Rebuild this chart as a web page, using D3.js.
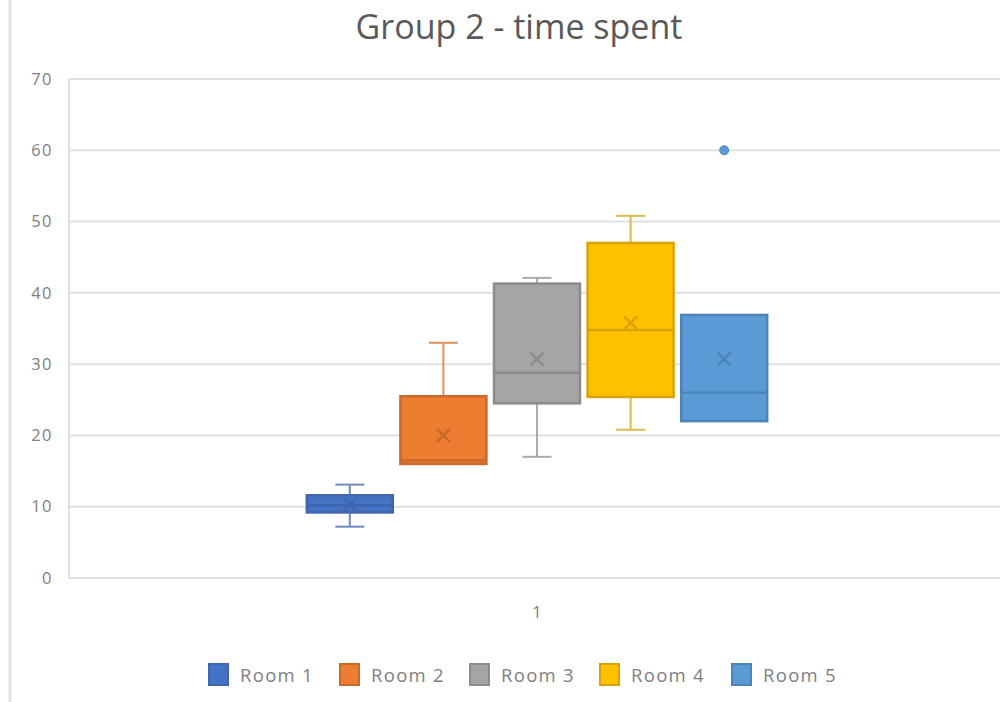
<!DOCTYPE html>
<html>
<head>
<meta charset="utf-8">
<script src="https://cdn.jsdelivr.net/npm/d3@7"></script>
<style>
  html, body { margin: 0; padding: 0; background: #ffffff; }
  svg { display: block; }
  text { font-family: "Open Sans", "DejaVu Sans", sans-serif; }
</style>
</head>
<body>
<svg id="chart" width="1000" height="702"></svg>
<script>
// Time spent per room (Group 2), five-number summaries plus mean and outliers
const categories = ["1"];
const rooms = ["Room 1", "Room 2", "Room 3", "Room 4", "Room 5"];
const minValues    = [7.2, 16.0, 17.0, 20.8, 22.0];
const q1Values     = [9.2, 16.0, 24.5, 25.4, 22.0];
const medianValues = [10.2, 16.5, 28.8, 34.8, 26.0];
const q3Values     = [11.6, 25.5, 41.3, 47.0, 36.9];
const maxValues    = [13.1, 33.0, 42.1, 50.8, 36.9];
const meanValues   = [10.3, 20.0, 30.7, 35.8, 30.7];
const outlierValues = [[], [], [], [], [60]];
const yTicks = [0, 10, 20, 30, 40, 50, 60, 70];

const fills   = ["#4472C4", "#ED7D31", "#A5A5A5", "#FFC000", "#5B9BD5"];
const borders = ["#3F65AD", "#C9692B", "#8C8C8C", "#D9A400", "#4D84B7"];
const whiskerColors = ["#6F8BC0", "#D9935F", "#AAAAAA", "#DDB94E", "#7DA6CF"];

const svg = d3.select("#chart");
const plot = { left: 69, right: 1005, top: 79, bottom: 578 };

// chart frame edge on the left
svg.append("line")
  .attr("x1", 10).attr("x2", 10).attr("y1", 0).attr("y2", 702)
  .attr("stroke", "#e3e3e3").attr("stroke-width", 3);

const y = d3.scaleLinear().domain([0, 70]).range([plot.bottom, plot.top]);
const x0 = d3.scaleBand().domain(categories).range([plot.left, plot.right])
  .paddingInner(0).paddingOuter(0.5);
const x1 = d3.scaleBand().domain(rooms).range([0, x0.bandwidth()])
  .paddingInner(0.06).paddingOuter(0.03);

// gridlines
svg.append("g").selectAll("line").data(yTicks).join("line")
  .attr("x1", plot.left).attr("x2", 1000)
  .attr("y1", d => y(d)).attr("y2", d => y(d))
  .attr("stroke", "#e0e0e0").attr("stroke-width", 2);

// vertical axis line
svg.append("line")
  .attr("x1", plot.left).attr("x2", plot.left)
  .attr("y1", y(70)).attr("y2", y(0))
  .attr("stroke", "#e0e0e0").attr("stroke-width", 2);

// y axis labels
const yAxis = d3.axisLeft(y).tickValues(yTicks).tickSize(0).tickPadding(16);
const yg = svg.append("g").attr("transform", `translate(${plot.left},0)`).call(yAxis);
yg.select(".domain").remove();
yg.selectAll("text")
  .attr("fill", "#808080").style("font-size", "16.5px").style("letter-spacing", "1.5px")
  .style("font-family", "'Open Sans', sans-serif");

// x axis label
const xAxis = d3.axisBottom(x0).tickSize(0).tickPadding(28);
const xg = svg.append("g").attr("transform", `translate(0,${plot.bottom})`).call(xAxis);
xg.select(".domain").remove();
xg.selectAll("text")
  .attr("fill", "#808080").style("font-size", "16.5px")
  .style("font-family", "'Open Sans', sans-serif");

// boxes
const groups = svg.append("g")
  .attr("transform", `translate(${x0("1")},0)`)
  .selectAll("g").data(rooms).join("g");

const bw = x1.bandwidth();
const capW = bw * 0.33;

groups.each(function (room, i) {
  const g = d3.select(this);
  const left = x1(room);
  const cx = left + bw / 2;

  // whiskers
  g.append("line").attr("x1", cx).attr("x2", cx)
    .attr("y1", y(q3Values[i])).attr("y2", y(maxValues[i]))
    .attr("stroke", whiskerColors[i]).attr("stroke-width", 2);
  g.append("line").attr("x1", cx).attr("x2", cx)
    .attr("y1", y(q1Values[i])).attr("y2", y(minValues[i]))
    .attr("stroke", whiskerColors[i]).attr("stroke-width", 2);
  if (maxValues[i] > q3Values[i]) {
    g.append("line").attr("x1", cx - capW / 2).attr("x2", cx + capW / 2)
      .attr("y1", y(maxValues[i])).attr("y2", y(maxValues[i]))
      .attr("stroke", whiskerColors[i]).attr("stroke-width", 2);
  }
  if (minValues[i] < q1Values[i]) {
    g.append("line").attr("x1", cx - capW / 2).attr("x2", cx + capW / 2)
      .attr("y1", y(minValues[i])).attr("y2", y(minValues[i]))
      .attr("stroke", whiskerColors[i]).attr("stroke-width", 2);
  }

  // box
  g.append("rect")
    .attr("x", left + 1).attr("width", bw - 2)
    .attr("y", y(q3Values[i])).attr("height", y(q1Values[i]) - y(q3Values[i]))
    .attr("fill", fills[i]).attr("stroke", borders[i]).attr("stroke-width", 2.5);

  // median
  g.append("line").attr("x1", left + 1).attr("x2", left + bw - 1)
    .attr("y1", y(medianValues[i])).attr("y2", y(medianValues[i]))
    .attr("stroke", borders[i]).attr("stroke-width", 2.5);

  // mean marker
  const my = y(meanValues[i]);
  const s = 6.5;
  g.append("path")
    .attr("d", `M${cx - s},${my - s}L${cx + s},${my + s}M${cx - s},${my + s}L${cx + s},${my - s}`)
    .attr("stroke", borders[i]).attr("stroke-width", 2.5).attr("fill", "none");

  // outliers
  g.selectAll("circle.outlier").data(outlierValues[i]).join("circle")
    .attr("class", "outlier")
    .attr("cx", cx).attr("cy", d => y(d)).attr("r", 4.5)
    .attr("fill", fills[i]).attr("stroke", borders[i]).attr("stroke-width", 1);
});

// title
svg.append("text")
  .attr("x", 519).attr("y", 39)
  .attr("text-anchor", "middle")
  .attr("fill", "#595959")
  .style("font-size", "34px")
  .text("Group 2 - time spent");

// legend
const legendX = [208, 339, 469, 599, 731];
const legend = svg.append("g").selectAll("g").data(rooms).join("g")
  .attr("transform", (d, i) => `translate(${legendX[i]},663)`);
legend.append("rect")
  .attr("x", 1).attr("y", 1).attr("width", 19).attr("height", 21)
  .attr("fill", (d, i) => fills[i]).attr("stroke", (d, i) => borders[i]).attr("stroke-width", 2);
legend.append("text")
  .attr("x", 32).attr("y", 19)
  .attr("fill", "#808080")
  .style("font-size", "18.5px").style("letter-spacing", "1.3px")
  .text(d => d);
</script>
</body>
</html>
